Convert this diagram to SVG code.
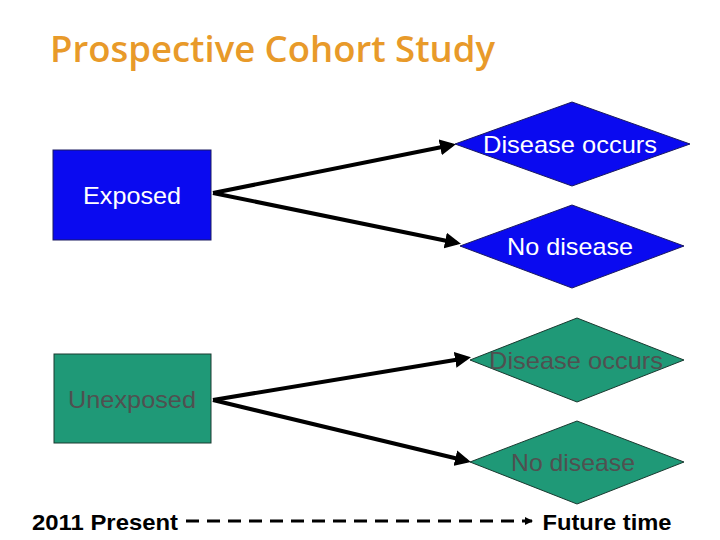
<svg xmlns="http://www.w3.org/2000/svg" width="720" height="540" viewBox="0 0 720 540">
<style>
.t{font-family:"Liberation Sans",Arial,sans-serif;font-size:24px;text-anchor:middle}
.w{fill:#ffffff}
.g{fill:#505050}
.k{fill:#000000;font-weight:bold;font-size:22px}
.blue{fill:#0A0AF0;stroke:#1a1a60;stroke-width:1}
.green{fill:#1F9977;stroke:#1a3a30;stroke-width:1}
.c{stroke:#000;stroke-width:4;fill:none;marker-end:url(#ah)}
</style>
<defs>
<marker id="ah" markerWidth="4" markerHeight="4" refX="3" refY="2" orient="auto" markerUnits="strokeWidth">
<path d="M0,0 L4,2 L0,4 z" fill="#000"/>
</marker>
<marker id="ah2" markerWidth="8" markerHeight="8" refX="7" refY="4" orient="auto" markerUnits="userSpaceOnUse">
<path d="M0,0 L8,4 L0,8 z" fill="#000"/>
</marker>
</defs>
<rect width="720" height="540" fill="#fff"/>
<text x="50" y="62" font-family="'Open Sans','Noto Sans',sans-serif" font-size="36" font-weight="600" fill="#E89A2A" textLength="445" lengthAdjust="spacingAndGlyphs">Prospective Cohort Study</text>
<g id="connectors">
<line class="c" x1="213" y1="193" x2="452" y2="145"/>
<line class="c" x1="213" y1="193" x2="457" y2="243"/>
<line class="c" x1="213" y1="400" x2="467" y2="358"/>
<line class="c" x1="213" y1="400" x2="467" y2="461"/>
<line x1="186" y1="521" x2="532" y2="521" stroke="#000" stroke-width="3" stroke-dasharray="13,8" marker-end="url(#ah2)"/>
</g>
<g id="exposed">
<rect class="blue" x="53" y="150" width="158" height="90"/>
<text class="t w" x="132" y="204" textLength="98" lengthAdjust="spacingAndGlyphs">Exposed</text>
</g>
<g id="exp-disease">
<polygon class="blue" points="455,144 572,102 690,144 572,186"/>
<text class="t w" x="570" y="153" textLength="174" lengthAdjust="spacingAndGlyphs">Disease occurs</text>
</g>
<g id="exp-nodisease">
<polygon class="blue" points="460,246 572,205 684,246 572,288"/>
<text class="t w" x="570" y="255" textLength="126" lengthAdjust="spacingAndGlyphs">No disease</text>
</g>
<g id="unexposed">
<rect class="green" x="54" y="354" width="157" height="89"/>
<text class="t g" x="132" y="408" textLength="128" lengthAdjust="spacingAndGlyphs">Unexposed</text>
</g>
<g id="unexp-disease">
<polygon class="green" points="470,360 577,318 684,360 577,402"/>
<text class="t g" x="576" y="369" textLength="174" lengthAdjust="spacingAndGlyphs">Disease occurs</text>
</g>
<g id="unexp-nodisease">
<polygon class="green" points="470,462 577,421 684,462 577,504"/>
<text class="t g" x="573" y="471" textLength="124" lengthAdjust="spacingAndGlyphs">No disease</text>
</g>
<g id="timeline-labels">
<text class="t k" x="105" y="530" textLength="146" lengthAdjust="spacingAndGlyphs">2011 Present</text>
<text class="t k" x="607" y="530" textLength="129" lengthAdjust="spacingAndGlyphs">Future time</text>
</g>
</svg>
